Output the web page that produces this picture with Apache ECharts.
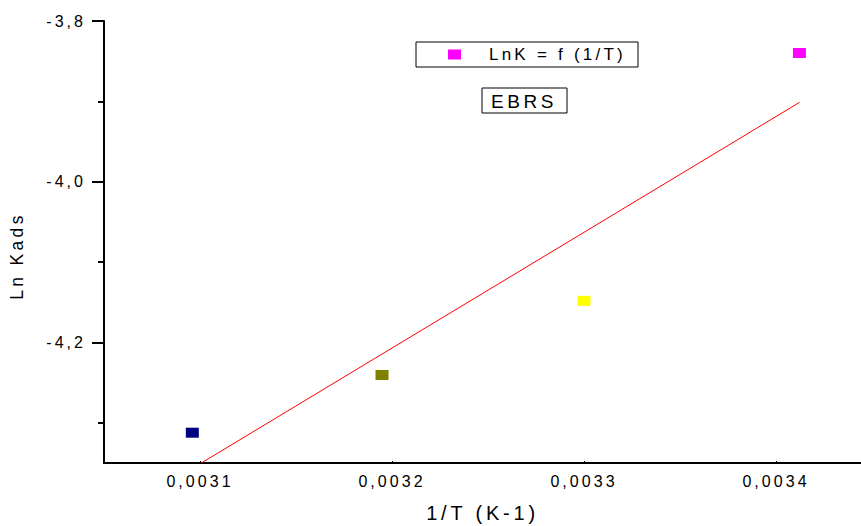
<!DOCTYPE html>
<html>
<head>
<meta charset="utf-8">
<script src="https://cdn.jsdelivr.net/npm/echarts@6/dist/echarts.min.js"></script>
<style>
  html, body { margin: 0; padding: 0; background: #fff; }
  #chart { width: 861px; height: 526px; }
  #chart text { letter-spacing: 0.19em; }
</style>
</head>
<body>
<div id="chart"></div>
<script>
// Data
const xValues = [0.003096, 0.0031948, 0.0033, 0.0034122];   // 1/T (K-1)
const yValues = [-4.3123, -4.2405, -4.1482, -3.8398];        // Ln Kads
const pointColors = ['#000080', '#808000', '#ffff00', '#ff00ff'];
const fitX = [0.0031007, 0.0034123];
const fitY = [-4.35, -3.9012];
const xTicks = [0.0031, 0.0032, 0.0033, 0.0034];
const yMajorTicks = [-3.8, -4.0, -4.2];
const yMinorTicks = [-3.9, -4.1, -4.3];
const seriesName = 'LnK = f (1/T)';
const boxLabel = 'EBRS';
const xTitle = '1/T (K-1)';
const yTitle = 'Ln Kads';

const FONT = '"Liberation Sans", Arial, Helvetica, sans-serif';

const chart = echarts.init(document.getElementById('chart'), null, { renderer: 'svg' });

const scatterData = xValues.map((x, i) => ({
  value: [x, yValues[i]],
  itemStyle: { color: pointColors[i] }
}));
const fitData = fitX.map((x, i) => [x, fitY[i]]);

const option = {
  animation: false,
  backgroundColor: '#fff',
  textStyle: { fontFamily: FONT, color: '#000' },
  grid: { left: 104, top: 21, right: 0, bottom: 63, containLabel: false, outerBoundsMode: 'none' },
  legend: {
    left: 416, top: 42,
    padding: [4, 0, 4, 32],
    borderColor: '#000', borderWidth: 1,
    backgroundColor: '#fff',
    itemWidth: 13, itemHeight: 10,
    itemGap: 0,
    selectedMode: false,
    data: [{ name: seriesName, icon: 'rect', itemStyle: { color: '#ff00ff' } }],
    textStyle: { fontFamily: FONT, fontSize: 17, color: '#000', lineHeight: 17, width: 149, padding: [0, 0, 0, 23] }
  },
  graphic: [
    { type: 'rect', shape: { x: 482, y: 88, width: 85, height: 25 },
      style: { fill: '#fff', stroke: '#000', lineWidth: 1 } },
    { type: 'text', x: 524, y: 101,
      style: { text: boxLabel, font: '19px ' + FONT, fill: '#000', textAlign: 'center', textVerticalAlign: 'middle' } }
  ],
  xAxis: {
    type: 'value',
    min: 0.00305, max: 0.00344427,
    name: xTitle, nameLocation: 'middle', nameGap: 40,
    nameTextStyle: { fontFamily: FONT, fontSize: 20, color: '#000' },
    axisLine: { show: true, lineStyle: { color: '#000', width: 2 } },
    axisTick: { show: true, inside: true, length: 2, customValues: xTicks, lineStyle: { color: '#000', width: 1 } },
    axisLabel: { customValues: xTicks, margin: 10, fontFamily: FONT, fontSize: 16, color: '#000',
      formatter: v => v.toFixed(4).replace('.', ',') },
    splitLine: { show: false }
  },
  yAxis: [
    {
      type: 'value',
      min: -4.35, max: -3.8,
      name: yTitle, nameLocation: 'middle', nameGap: 78, nameRotate: 90,
      nameTextStyle: { fontFamily: FONT, fontSize: 17.5, color: '#000', padding: [0, 28, 0, 0] },
      axisLine: { show: true, lineStyle: { color: '#000', width: 2 } },
      axisTick: { show: true, length: 12, customValues: yMajorTicks, lineStyle: { color: '#000', width: 2 } },
      axisLabel: { customValues: yMajorTicks, margin: 18, fontFamily: FONT, fontSize: 16, color: '#000',
        formatter: v => v.toFixed(1).replace('.', ',') },
      splitLine: { show: false }
    },
    {
      type: 'value',
      min: -4.35, max: -3.8,
      position: 'left',
      axisLine: { show: false },
      axisTick: { show: true, length: 6, customValues: yMinorTicks, lineStyle: { color: '#000', width: 2 } },
      axisLabel: { show: false },
      splitLine: { show: false }
    }
  ],
  series: [
    {
      name: 'fit', type: 'line', data: fitData,
      showSymbol: false, symbol: 'none',
      lineStyle: { color: '#ff0000', width: 1 },
      z: 2
    },
    {
      name: seriesName, type: 'scatter', data: scatterData,
      symbol: 'rect', symbolSize: [13, 10],
      itemStyle: { color: '#ff00ff', opacity: 1 },
      z: 3
    }
  ]
};
chart.setOption(option);
</script>
</body>
</html>
